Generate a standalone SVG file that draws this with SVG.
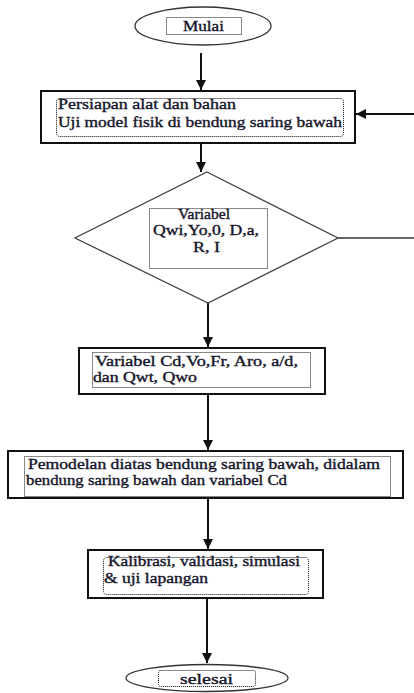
<svg xmlns="http://www.w3.org/2000/svg" width="414" height="693" viewBox="0 0 414 693">
<style>
.box{fill:#fff;stroke:#111;stroke-width:2}
.term{fill:#fff;stroke:#333;stroke-width:1.3}
.dia{fill:#fff;stroke:#444;stroke-width:1.3}
.dot{fill:none;stroke:#111;stroke-width:1;stroke-dasharray:1 1}
.t{font-family:"Liberation Serif","Times New Roman",serif;font-size:14px;fill:#15152a;stroke:#15152a;stroke-width:0.35}
.c{fill:none;stroke:#111;stroke-width:2}
</style>
<defs>
<marker id="ah" markerUnits="userSpaceOnUse" markerWidth="11" markerHeight="11" refX="10" refY="5" orient="auto">
<path d="M0,0 L10,5 L0,10 z" fill="#111"/>
</marker>
</defs>
<rect width="414" height="693" fill="#fff"/>
<g id="connectors">
<line class="c" x1="201" y1="53" x2="201" y2="90" marker-end="url(#ah)"/>
<line class="c" x1="201" y1="143" x2="201" y2="172" marker-end="url(#ah)"/>
<line class="c" x1="414" y1="114" x2="356" y2="114" marker-end="url(#ah)"/>
<line x1="338" y1="238" x2="414" y2="238" stroke="#333" stroke-width="1.5"/>
<line class="c" x1="208" y1="303" x2="208" y2="347" marker-end="url(#ah)"/>
<line class="c" x1="208" y1="394" x2="208" y2="450" marker-end="url(#ah)"/>
<line class="c" x1="208" y1="498" x2="208" y2="549" marker-end="url(#ah)"/>
<line class="c" x1="207" y1="598" x2="207" y2="663" marker-end="url(#ah)"/>
</g>
<g id="mulai">
<ellipse class="term" cx="203" cy="26" rx="68" ry="19"/>
<rect class="dot" x="166.5" y="17.5" width="75" height="17"/>
<text class="t" x="183" y="31" textLength="41" lengthAdjust="spacingAndGlyphs">Mulai</text>
</g>
<g id="persiapan">
<rect class="box" x="41" y="91" width="314" height="52"/>
<rect class="dot" x="56.5" y="98.5" width="287" height="38" rx="3"/>
<text class="t" x="58" y="109" textLength="178" lengthAdjust="spacingAndGlyphs">Persiapan alat dan bahan</text>
<text class="t" x="58" y="127" textLength="284" lengthAdjust="spacingAndGlyphs">Uji model fisik di bendung saring bawah</text>
</g>
<g id="variabel-input">
<polygon class="dia" points="207,172 338,238 208,303 75,238"/>
<rect class="dot" x="149.5" y="208.5" width="118" height="60"/>
<text class="t" x="178" y="219" textLength="52" lengthAdjust="spacingAndGlyphs">Variabel</text>
<text class="t" x="153" y="235" textLength="106" lengthAdjust="spacingAndGlyphs">Qwi,Yo,0, D,a,</text>
<text class="t" x="193" y="252" textLength="27" lengthAdjust="spacingAndGlyphs">R, I</text>
</g>
<g id="variabel-output">
<rect class="box" x="79" y="348" width="246" height="46"/>
<rect class="dot" x="92.5" y="352.5" width="218" height="35"/>
<text class="t" x="95" y="366" textLength="203" lengthAdjust="spacingAndGlyphs">Variabel  Cd,Vo,Fr, Aro, a/d,</text>
<text class="t" x="93" y="382" textLength="104" lengthAdjust="spacingAndGlyphs">dan Qwt, Qwo</text>
</g>
<g id="pemodelan">
<rect class="box" x="8" y="451" width="395" height="47"/>
<rect class="dot" x="24.5" y="456.5" width="366" height="40"/>
<text class="t" x="28" y="469" textLength="352" lengthAdjust="spacingAndGlyphs">Pemodelan diatas bendung saring bawah, didalam</text>
<text class="t" x="26" y="485" textLength="261" lengthAdjust="spacingAndGlyphs">bendung saring bawah dan variabel Cd</text>
</g>
<g id="kalibrasi">
<rect class="box" x="88" y="550" width="235" height="48"/>
<rect class="dot" x="103.5" y="557.5" width="205" height="37" rx="3"/>
<text class="t" x="108" y="566" textLength="192" lengthAdjust="spacingAndGlyphs">Kalibrasi, validasi, simulasi</text>
<text class="t" x="104" y="583" textLength="104" lengthAdjust="spacingAndGlyphs">&amp; uji lapangan</text>
</g>
<g id="selesai">
<ellipse class="term" cx="207" cy="678" rx="81" ry="13.5"/>
<rect class="dot" x="158.5" y="670.5" width="97" height="16" rx="2"/>
<text class="t" x="180" y="684" textLength="53" lengthAdjust="spacingAndGlyphs">selesai</text>
</g>
</svg>
